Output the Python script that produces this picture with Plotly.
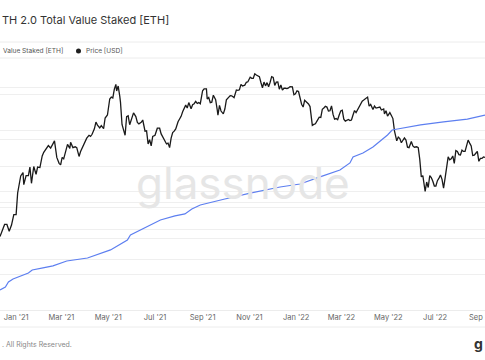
import plotly.graph_objects as go

# ---------------- data ----------------
price_dates = [
"2020-12-11","2020-12-14","2020-12-17","2020-12-20","2020-12-23","2020-12-26","2020-12-29","2021-01-01","2021-01-03","2021-01-07",
"2021-01-10","2021-01-11","2021-01-14","2021-01-17","2021-01-19","2021-01-21","2021-01-24","2021-01-27","2021-01-29","2021-02-01",
"2021-02-04","2021-02-06","2021-02-09","2021-02-12","2021-02-15","2021-02-19","2021-02-20","2021-02-23","2021-02-26","2021-02-28",
"2021-03-02","2021-03-04","2021-03-06","2021-03-09","2021-03-12","2021-03-13","2021-03-16","2021-03-19","2021-03-21","2021-03-24",
"2021-03-26","2021-03-29","2021-04-01","2021-04-03","2021-04-06","2021-04-08","2021-04-10","2021-04-13","2021-04-15","2021-04-17",
"2021-04-20","2021-04-22","2021-04-25","2021-04-27","2021-04-30","2021-05-03","2021-05-05","2021-05-07","2021-05-09","2021-05-11",
"2021-05-12","2021-05-14","2021-05-16","2021-05-17","2021-05-19","2021-05-21","2021-05-23","2021-05-25","2021-05-27","2021-05-29",
"2021-06-01","2021-06-03","2021-06-06","2021-06-08","2021-06-10","2021-06-13","2021-06-15","2021-06-18","2021-06-20","2021-06-22",
"2021-06-24","2021-06-26","2021-06-28","2021-07-01","2021-07-04","2021-07-07","2021-07-09","2021-07-12","2021-07-14","2021-07-16",
"2021-07-18","2021-07-20","2021-07-22","2021-07-24","2021-07-26","2021-07-28","2021-07-31","2021-08-02","2021-08-04","2021-08-06",
"2021-08-08","2021-08-10","2021-08-12","2021-08-14","2021-08-17","2021-08-19","2021-08-21","2021-08-23","2021-08-25","2021-08-27",
"2021-08-29","2021-09-01","2021-09-03","2021-09-06","2021-09-07","2021-09-09","2021-09-11","2021-09-13","2021-09-15","2021-09-18",
"2021-09-20","2021-09-21","2021-09-23","2021-09-25","2021-09-28","2021-09-30","2021-10-02","2021-10-05","2021-10-07","2021-10-09",
"2021-10-12","2021-10-15","2021-10-17","2021-10-19","2021-10-21","2021-10-23","2021-10-26","2021-10-28","2021-10-30","2021-11-02",
"2021-11-04","2021-11-06","2021-11-08","2021-11-10","2021-11-12","2021-11-14","2021-11-16","2021-11-18","2021-11-20","2021-11-22",
"2021-11-24","2021-11-26","2021-11-28","2021-11-30","2021-12-02","2021-12-04","2021-12-06","2021-12-08","2021-12-10","2021-12-12",
"2021-12-14","2021-12-16","2021-12-18","2021-12-20","2021-12-22","2021-12-24","2021-12-27","2021-12-29","2021-12-31","2022-01-02",
"2022-01-04","2022-01-06","2022-01-08","2022-01-10","2022-01-12","2022-01-14","2022-01-17","2022-01-19","2022-01-21","2022-01-22",
"2022-01-24","2022-01-26","2022-01-28","2022-01-31","2022-02-02","2022-02-04","2022-02-06","2022-02-08","2022-02-10","2022-02-12",
"2022-02-14","2022-02-16","2022-02-18","2022-02-20","2022-02-22","2022-02-24","2022-02-26","2022-02-28","2022-03-02","2022-03-04",
"2022-03-06","2022-03-08","2022-03-10","2022-03-12","2022-03-14","2022-03-16","2022-03-18","2022-03-20","2022-03-23","2022-03-25",
"2022-03-28","2022-03-30","2022-04-02","2022-04-04","2022-04-06","2022-04-08","2022-04-11","2022-04-13","2022-04-15","2022-04-18",
"2022-04-20","2022-04-22","2022-04-25","2022-04-26","2022-04-28","2022-04-30","2022-05-03","2022-05-05","2022-05-07","2022-05-09",
"2022-05-11","2022-05-12","2022-05-14","2022-05-16","2022-05-18","2022-05-20","2022-05-22","2022-05-24","2022-05-26","2022-05-28",
"2022-05-31","2022-06-02","2022-06-04","2022-06-07","2022-06-09","2022-06-11","2022-06-13","2022-06-15","2022-06-17","2022-06-18",
"2022-06-20","2022-06-22","2022-06-24","2022-06-26","2022-06-28","2022-06-30","2022-07-02","2022-07-04","2022-07-06","2022-07-08",
"2022-07-10","2022-07-12","2022-07-14","2022-07-16","2022-07-18","2022-07-20","2022-07-22","2022-07-24","2022-07-26","2022-07-28",
"2022-07-30","2022-08-01","2022-08-03","2022-08-05","2022-08-07","2022-08-09","2022-08-11","2022-08-13","2022-08-15","2022-08-17",
"2022-08-19","2022-08-21","2022-08-23","2022-08-25","2022-08-27","2022-08-29","2022-08-31","2022-09-02","2022-09-04",
]
price_usd = [
545,590,640,640,585,635,730,730,975,1225,
1280,1090,1230,1230,1380,1110,1390,1250,1380,1370,
1600,1680,1770,1840,1780,1930,1960,1570,1450,1420,
1570,1540,1660,1870,1770,1920,1790,1810,1790,1590,
1700,1820,1970,2030,2110,2080,2140,2300,2520,2420,
2330,2400,2310,2660,2770,3430,3520,3480,3910,4170,
3820,4080,3580,3290,2440,2300,2110,2710,2740,2430,
2630,2850,2710,2510,2460,2510,2590,2230,2240,1880,
1990,1830,2080,2110,2320,2320,2150,2030,1990,1880,
1900,1790,2030,2190,2230,2300,2530,2610,2720,2890,
3010,3160,3040,3270,3010,3180,3220,3320,3230,3270,
3220,3830,3930,3930,3430,3500,3270,3290,3610,3400,
2980,2760,3150,2920,2810,3000,3390,3520,3590,3580,
3490,3870,3850,3880,4170,4080,4130,4290,4320,4590,
4520,4520,4810,4730,4670,4630,4280,3990,4300,4090,
4270,4040,4290,4630,4580,4110,4300,4310,3910,4140,
3860,3960,3960,3940,3980,4050,4040,3630,3680,3830,
3790,3410,3200,3080,3370,3310,3210,3100,2570,2410,
2440,2460,2550,2690,2680,2990,3040,3110,3080,2920,
2930,3130,2790,2620,2640,2600,2770,2920,2950,2620,
2550,2570,2610,2570,2590,2770,2940,2860,3030,3110,
3330,3380,3450,3520,3120,3190,2980,3120,3040,3060,
3080,2960,3000,2810,2930,2730,2860,2750,2640,2240,
2070,1960,2060,2020,1910,1960,2040,1980,1800,1790,
1940,1830,1800,1810,1790,1530,1210,1230,1090,995,
1130,1050,1230,1200,1140,1070,1070,1150,1190,1240,
1170,1040,1190,1360,1580,1520,1540,1600,1450,1720,
1700,1630,1620,1730,1700,1700,1880,1980,1900,1830,
1610,1620,1660,1700,1490,1550,1550,1580,1570,
]

staked_dates = [
"2020-12-11","2020-12-18","2020-12-22","2020-12-28","2021-01-17","2021-01-22","2021-02-05","2021-02-18","2021-03-08","2021-03-25",
"2021-04-04","2021-05-04","2021-05-26","2021-05-30","2021-07-08","2021-07-27","2021-08-09","2021-08-18","2021-08-29","2021-09-30",
"2021-11-02","2021-12-11","2022-01-06","2022-02-01","2022-02-27","2022-03-12","2022-03-16","2022-03-29","2022-04-11","2022-04-30",
"2022-05-06","2022-05-13","2022-06-12","2022-07-12","2022-08-12","2022-09-04",
]
staked_eth_m = [
1.46,1.67,2.01,2.22,2.64,2.85,2.99,3.13,3.47,3.61,
3.68,4.24,4.93,5.28,6.32,6.60,6.74,7.08,7.36,7.78,
8.19,8.61,8.82,9.31,9.79,10.28,10.69,10.97,11.39,12.22,
12.57,12.64,12.92,13.13,13.33,13.61,
]

month_ticks = ["2021-01-01","2021-03-01","2021-05-01","2021-07-01","2021-09-01","2021-11-01",
               "2022-01-01","2022-03-01","2022-05-01","2022-07-01","2022-09-01"]
month_labels = ["Jan '21","Mar '21","May '21","Jul '21","Sep '21","Nov '21",
                "Jan '22","Mar '22","May '22","Jul '22","Sep '22"]
price_grid = [400, 600, 800, 1000, 2000, 4000]
staked_grid = [2.5, 5, 7.5, 10, 12.5, 15]

# ---------------- figure ----------------
W, H = 485, 360
TOP, BOT = 60, 310
def py(p):
    return (BOT - p) / (BOT - TOP)

FONT = "Inter, Noto Sans, sans-serif"
fig = go.Figure()
fig.add_trace(go.Scatter(x=staked_dates, y=staked_eth_m, yaxis="y2", mode="lines",
                         line=dict(color="#5d7ff0", width=1.2), name="Value Staked [ETH]"))
fig.add_trace(go.Scatter(x=price_dates, y=price_usd, yaxis="y", mode="lines",
                         line=dict(color="#1a1a1a", width=1.3), name="Price [USD]"))

grid = "#efefef"
fig.update_layout(
    width=W, height=H, template="none",
    margin=dict(l=0, r=0, t=TOP, b=H - BOT, pad=0),
    paper_bgcolor="white", plot_bgcolor="white", showlegend=False,
    font=dict(family=FONT, color="#555"),
    xaxis=dict(type="date", range=["2020-12-11", "2022-09-04"], tickvals=month_ticks,
               ticktext=month_labels, showgrid=False, zeroline=False, showline=True,
               linecolor="#ececec", linewidth=1, ticks="", tickfont=dict(size=7.5, color="#666"),
               ticklabeloverflow="allow", automargin=False),
    yaxis=dict(type="log", range=[2.309, 3.762], tickvals=price_grid, showticklabels=False,
               showgrid=True, gridcolor=grid, gridwidth=1, zeroline=False, showline=False,
               ticks="", automargin=False),
    yaxis2=dict(overlaying="y", side="right", range=[0.069, 17.43], tickvals=staked_grid,
                showticklabels=False, showgrid=True, gridcolor=grid, gridwidth=1,
                zeroline=False, showline=False, ticks="", automargin=False),
)

# separator lines (legend row and bottom)
for p in (42, 58, 327):
    fig.add_shape(type="line", xref="paper", yref="paper", x0=0, x1=1, y0=py(p), y1=py(p),
                  line=dict(color="#ececec", width=1), layer="below")

# legend marker for price
fig.add_shape(type="circle", xref="paper", yref="paper",
              x0=76 / W, x1=81 / W, y0=py(53.5), y1=py(48.5),
              fillcolor="#1f1f1f", line=dict(width=0))

ann = [
    dict(text="TH 2.0 Total Value Staked [ETH]", x=0, y=py(20), xanchor="left", yanchor="middle",
         font=dict(size=11, color="#333")),
    dict(text="Value Staked [ETH]", x=1 / W, y=py(51), xanchor="left", yanchor="middle",
         font=dict(size=6.6, color="#555")),
    dict(text="Price [USD]", x=84 / W, y=py(51), xanchor="left", yanchor="middle",
         font=dict(size=6.6, color="#555")),
    dict(text=". All Rights Reserved.", x=0, y=py(344), xanchor="left", yanchor="middle",
         font=dict(size=7, color="#888")),
    dict(text="g", x=1, y=py(343), xanchor="right", yanchor="middle",
         font=dict(size=14, color="#333", weight="bold")),
    dict(text="glassnode", x=0.5, y=py(183), xanchor="center", yanchor="middle",
         font=dict(size=44, color="#e6e6e6")),
]
for a in ann:
    fig.add_annotation(xref="paper", yref="paper", showarrow=False, **a)

fig.write_html("out.html", config={"displayModeBar": False},
               post_script="document.body.style.margin='0';")
